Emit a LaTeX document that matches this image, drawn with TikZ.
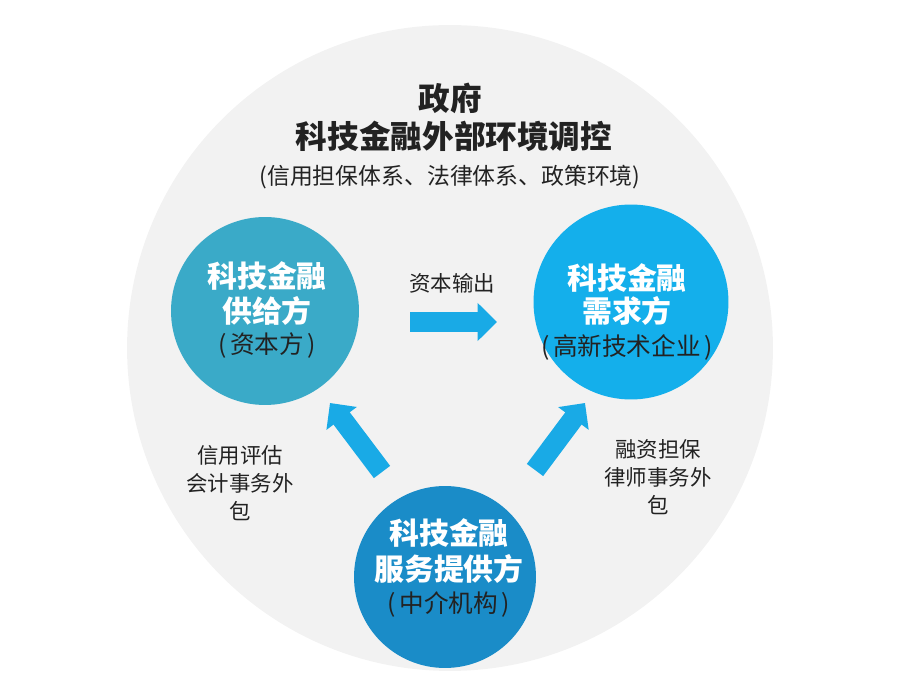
\documentclass[tikz,border=0pt]{standalone}
\usepackage{fontspec}
\setmainfont{Noto Sans CJK SC}
\usepackage{tikz}
\usetikzlibrary{arrows.meta}

\definecolor{envgray}{HTML}{F2F2F2}
\definecolor{supplycol}{HTML}{3AAAC8}
\definecolor{demandcol}{HTML}{14AFEB}
\definecolor{servicecol}{HTML}{1A8CC8}
\definecolor{flowcol}{HTML}{19AAE6}
\definecolor{inkcol}{HTML}{222222}

% bracketed role line, with the loose parentheses of the original
\newcommand{\rolenote}[1]{(\kern2pt#1\kern2pt)}

\tikzset{
  bubble/.style={circle, inner sep=0pt},
  headtxt/.style={white, font=\bfseries\fontsize{17}{20}\selectfont, inner sep=0pt},
  subtxt/.style={inkcol, font=\fontsize{13}{16}\selectfont, inner sep=0pt},
  roletxt/.style={inkcol, font=\fontsize{14}{16}\selectfont, inner sep=0pt},
  sidetxt/.style={inkcol, font=\fontsize{12.2}{16}\selectfont, inner sep=0pt},
  fatarrow/.style={flowcol, line width=11.6pt, -{Triangle[length=11pt, width=21pt]}}
}

\begin{document}
\begin{tikzpicture}[x=0.02cm, y=-0.02cm]
  \useasboundingbox (0,0) rectangle (900,695);
  % outer environment
  \node[bubble, fill=envgray, minimum size=12.92cm] (env) at (450,348) {};
  \node[inkcol, font=\bfseries\fontsize{18}{22}\selectfont, inner sep=0pt] (gov) at (450,98) {政府};
  \node[inkcol, font=\bfseries\fontsize{18}{22}\selectfont, inner sep=0pt] (govctl) at (454,136) {科技金融外部环境调控};
  \node[subtxt] (govsys) at (450,177) {(信用担保体系、法律体系、政策环境)};

  % three parties
  \node[bubble, fill=supplycol, minimum size=3.76cm] (supply) at (265,311) {};
  \node[bubble, fill=demandcol, minimum size=3.90cm] (demand) at (631,302) {};
  \node[bubble, fill=servicecol, minimum size=3.64cm] (service) at (445,577) {};

  \node[headtxt] (supplyA) at (267,276) {科技金融};
  \node[headtxt] (supplyB) at (267,311) {供给方};
  \node[roletxt] (supplyC) at (267,346) {\rolenote{资本方}};

  \node[headtxt] (demandA) at (627,278) {科技金融};
  \node[headtxt] (demandB) at (627,311) {需求方};
  \node[roletxt] (demandC) at (627,347) {\rolenote{高新技术企业}};

  \node[headtxt] (serviceA) at (449,533) {科技金融};
  \node[headtxt] (serviceB) at (449,569) {服务提供方};
  \node[roletxt] (serviceC) at (449,604) {\rolenote{中介机构}};

  % flows
  \coordinate (capA) at (410,322);
  \coordinate (capB) at (497,322);
  \coordinate (lftA) at (382,472);
  \coordinate (lftB) at (330,403);
  \coordinate (rgtA) at (535,470);
  \coordinate (rgtB) at (585,403);
  \draw[fatarrow] (capA) -- (capB);
  \draw[fatarrow] (lftA) -- (lftB);
  \draw[fatarrow] (rgtA) -- (rgtB);

  \node[sidetxt] (caplbl) at (452,283) {资本输出};
  \node[sidetxt, align=center] (lftlbl) at (240,483) {信用评估\\会计事务外\\包};
  \node[sidetxt, align=center] (rgtlbl) at (658,477) {融资担保\\律师事务外\\包};
\end{tikzpicture}
\end{document}
